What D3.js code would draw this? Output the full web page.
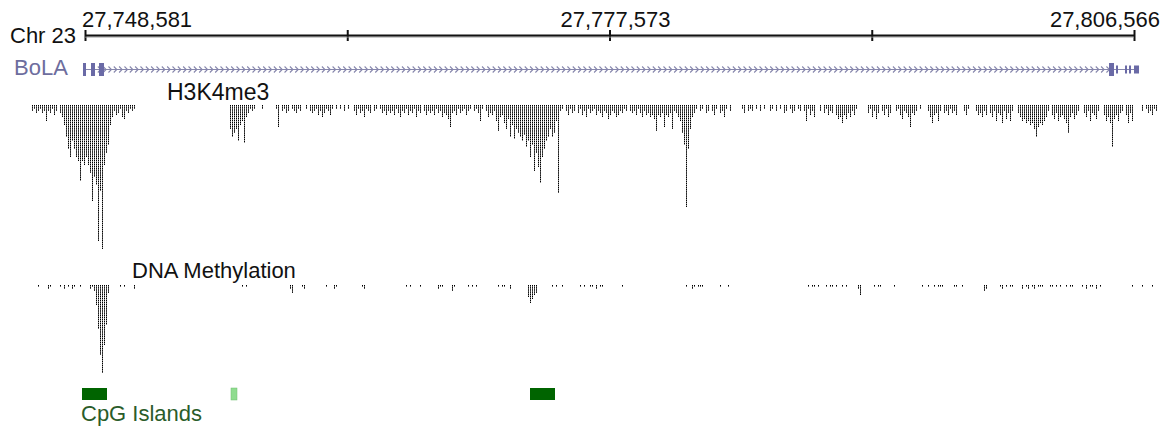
<!DOCTYPE html>
<html>
<head>
<meta charset="utf-8">
<script src="https://cdn.jsdelivr.net/npm/d3@7"></script>
<style>
  html, body { margin: 0; padding: 0; background: #fff; }
  svg { display: block; font-family: "Liberation Sans", Arial, sans-serif; }
</style>
</head>
<body>
<svg id="chart" width="1173" height="430"></svg>
<script>
// ---- region and axis ----
const chromName = "Chr 23";
const tickValues = [27748581, 27763077, 27777573, 27792070, 27806566];
const tickLabels = ["27,748,581", "", "27,777,573", "", "27,806,566"];

// ---- gene model (BoLA, plus strand) ----
const geneName = "BoLA";
const geneStart = 27748470;
const geneEnd = 27806843;
const exonStarts = [27748470, 27748913, 27749355, 27805185, 27805572, 27806069, 27806290, 27806566];
const exonEnds   = [27748636, 27749134, 27749631, 27805461, 27805682, 27806180, 27806401, 27806843];
const exonCoding = [true, true, true, true, false, false, false, false];

// ---- coverage bins (reads per bin) ----
const binStart = 27745651;
const binSize = 110.55;
const h3k4me3Depth = [
  3,2,4,3,2,4,3,8,3,4,2,5,3,0,4,6,10,16,22,26,
  18,22,26,28,38,28,30,26,30,34,48,36,40,68,43,72,30,24,20,10,
  6,3,5,4,2,6,7,3,4,2,3,2,0,0,0,0,0,0,0,0,
  0,0,0,0,0,0,0,0,0,0,0,0,0,0,0,0,0,0,0,0,
  0,0,0,0,0,0,0,0,0,0,0,0,0,0,0,0,0,0,0,12,
  16,14,12,18,10,8,19,6,4,2,3,2,0,0,0,2,0,0,0,0,
  0,0,2,11,0,3,2,4,3,0,2,3,4,2,3,0,0,2,0,3,
  4,3,2,5,3,6,4,2,3,5,2,0,2,0,2,0,3,0,2,0,
  0,3,5,2,4,3,6,2,3,4,0,3,2,0,2,4,3,5,3,4,
  3,5,2,4,6,3,4,2,5,3,4,2,6,3,4,0,3,5,3,4,
  3,5,2,4,3,6,4,5,7,11,4,3,5,2,4,3,2,5,3,2,
  0,3,2,4,8,2,0,3,6,4,5,3,8,13,6,5,9,12,7,16,
  10,17,12,14,16,18,15,21,18,26,20,33,24,31,39,26,22,18,16,12,
  16,14,8,44,3,2,0,3,5,2,4,3,0,4,2,5,3,6,2,4,
  3,2,5,3,4,6,3,4,7,5,3,4,6,5,3,4,2,3,0,3,
  4,3,5,2,4,6,3,5,4,6,5,7,13,5,6,4,11,5,6,4,
  12,3,4,6,8,14,20,51,22,12,6,4,2,0,3,2,0,4,3,0,
  3,5,2,0,4,3,6,2,0,3,0,0,0,0,0,2,4,0,3,2,
  3,0,2,0,3,0,2,0,0,3,2,0,3,0,2,0,4,3,0,2,
  4,3,0,2,3,0,3,8,2,5,3,6,0,0,3,0,4,2,5,3,
  4,0,5,7,6,9,5,7,4,6,3,5,2,0,0,0,0,0,4,2,
  6,3,7,4,0,3,5,2,6,4,0,0,3,2,5,7,3,4,6,11,
  4,5,3,0,2,0,0,0,3,6,9,5,4,8,3,0,4,3,5,2,
  4,3,5,0,0,0,3,5,2,0,0,0,3,5,4,6,3,5,0,4,
  6,3,8,4,5,9,3,7,4,8,3,0,0,4,6,8,7,9,8,10,
  9,12,16,11,9,10,8,6,3,0,5,7,4,8,6,5,7,9,14,6,
  4,7,5,3,0,0,4,6,3,8,4,5,7,3,0,0,5,8,6,9,
  21,7,5,8,4,3,0,5,9,4,8,0,0,0,0,3,0,2,4,3,
  5,2,3,0
];

// ---- methylated CpG sites (bin index, read depth) ----
const methylBins = [
  3,8,9,14,16,18,20,21,24,29,30,31,32,33,34,35,36,37,38,44,46,51,
  105,107,129,130,135,136,147,151,152,165,166,187,189,
  194,203,204,205,210,211,218,220,222,233,235,236,239,
  248,249,250,251,252,260,262,265,274,276,279,280,282,284,285,295,
  327,330,331,333,334,335,344,348,
  388,390,391,393,397,399,400,402,405,407,413,414,421,423,424,431,
  445,448,451,453,454,455,461,462,465,476,477,484,485,487,489,490,
  495,497,498,500,501,503,504,505,509,510,512,514,517,519,520,
  525,527,529,530,532,534,550,555,560
];
const methylDepth = [
  1,2,1,1,2,1,2,1,1,2,1,3,10,22,35,44,30,20,4,1,1,2,
  1,1,2,4,1,2,1,2,1,1,2,1,1,
  1,2,1,1,3,1,1,1,1,1,1,1,2,
  6,9,7,5,4,1,1,1,1,1,1,1,2,1,1,1,
  1,2,1,1,1,1,1,1,
  1,1,1,1,1,1,1,1,1,1,2,5,1,1,1,1,
  1,1,1,1,1,1,1,1,1,3,2,1,2,1,1,1,
  2,1,2,1,2,1,1,1,1,1,1,1,1,1,1,
  1,2,1,1,2,1,1,1,1
];

// ---- CpG islands ----
const cpgStarts = [27748415, 27756651, 27773179];
const cpgEnds   = [27749797, 27756983, 27774561];
const cpgStrong = [true, false, true];

const svg = d3.select("#chart");
const font = "'Liberation Sans', Arial, sans-serif";

const x = d3.scaleLinear()
  .domain([tickValues[0], tickValues[tickValues.length - 1]])
  .range([85, 1134]);

// 2 px of track height per read
const depth = d3.scaleLinear().domain([0, 1]).range([0, 2]);

const binX = i => Math.round(x(binStart + i * binSize)) + 0.5;

// ---- ruler ----
const ruler = svg.append("g").attr("transform", "translate(0,30)");
ruler.call(d3.axisBottom(x).tickValues(tickValues).tickSizeInner(11).tickSizeOuter(0).tickFormat(""))
  .call(g => g.select(".domain").remove())
  .call(g => g.selectAll(".tick line").attr("stroke", "#111").attr("stroke-width", 2));
ruler.append("line")
  .attr("x1", x.range()[0]).attr("x2", x.range()[1])
  .attr("y1", 7).attr("y2", 7)
  .attr("stroke", "#999").attr("stroke-width", 1);
ruler.append("line")
  .attr("x1", x.range()[0]).attr("x2", x.range()[1])
  .attr("y1", 5.5).attr("y2", 5.5)
  .attr("stroke", "#111").attr("stroke-width", 2);

const labelAnchor = ["start", "middle", "middle", "middle", "end"];
const labelShift = [-3, 0, 6, 0, 26];
svg.append("g").selectAll("text")
  .data(tickValues.map((v, i) => ({ v, label: tickLabels[i], i })).filter(d => d.label))
  .join("text")
  .attr("x", d => x(d.v) + labelShift[d.i])
  .attr("y", 27)
  .attr("text-anchor", d => labelAnchor[d.i])
  .attr("font-family", font).attr("font-size", 22).attr("fill", "#111")
  .text(d => d.label);

svg.append("text")
  .attr("x", 10).attr("y", 43)
  .attr("font-family", font).attr("font-size", 22).attr("fill", "#111")
  .text(chromName);

// ---- gene track ----
const geneY = 69.5;
const gene = svg.append("g");
svg.append("text")
  .attr("x", 14).attr("y", 75)
  .attr("font-family", font).attr("font-size", 22).attr("fill", "#6d6d9e")
  .text(geneName);

gene.append("line")
  .attr("x1", x(geneStart)).attr("x2", x(geneEnd))
  .attr("y1", geneY).attr("y2", geneY)
  .attr("stroke", "#8686ac").attr("stroke-width", 1.2);

gene.selectAll("path.chev")
  .data(d3.range(geneStart + 900, geneEnd - 1500, 295))
  .join("path")
  .attr("class", "chev")
  .attr("d", d => {
    const cx = x(d);
    return `M${cx - 1.5},${geneY - 3}L${cx + 1.5},${geneY}L${cx - 1.5},${geneY + 3}`;
  })
  .attr("fill", "none").attr("stroke", "#8686ac").attr("stroke-width", 1.1);

gene.selectAll("rect.exon")
  .data(exonStarts.map((s, i) => ({ s, e: exonEnds[i], cds: exonCoding[i] })))
  .join("rect")
  .attr("class", "exon")
  .attr("x", d => x(d.s))
  .attr("width", d => Math.max(1.5, x(d.e) - x(d.s)))
  .attr("y", d => geneY - (d.cds ? 6.5 : 4))
  .attr("height", d => d.cds ? 13 : 8)
  .attr("fill", "#6a6aa6");

// ---- H3K4me3 coverage ----
const h3Top = 105;
svg.append("text")
  .attr("x", 167).attr("y", 100)
  .attr("font-family", font).attr("font-size", 23).attr("fill", "#111")
  .text("H3K4me3");

svg.append("g").selectAll("line")
  .data(h3k4me3Depth.map((v, i) => ({ v, i })).filter(d => d.v > 0))
  .join("line")
  .attr("x1", d => binX(d.i)).attr("x2", d => binX(d.i))
  .attr("y1", h3Top).attr("y2", d => h3Top + depth(d.v))
  .attr("stroke", "#000").attr("stroke-width", 1)
  .attr("stroke-dasharray", "1.6 0.5");

// ---- DNA methylation ----
const meTop = 285;
svg.append("text")
  .attr("x", 132).attr("y", 278)
  .attr("font-family", font).attr("font-size", 22).attr("fill", "#111")
  .text("DNA Methylation");

svg.append("g").selectAll("line")
  .data(methylBins.map((b, i) => ({ b, v: methylDepth[i] })))
  .join("line")
  .attr("x1", d => binX(d.b)).attr("x2", d => binX(d.b))
  .attr("y1", meTop).attr("y2", d => meTop + depth(d.v))
  .attr("stroke", "#000").attr("stroke-width", 1)
  .attr("stroke-dasharray", "1.6 0.5");

// ---- CpG islands ----
svg.append("g").selectAll("rect")
  .data(cpgStarts.map((s, i) => ({ s, e: cpgEnds[i], strong: cpgStrong[i] })))
  .join("rect")
  .attr("x", d => x(d.s)).attr("width", d => x(d.e) - x(d.s))
  .attr("y", 388).attr("height", 12)
  .attr("fill", d => d.strong ? "#006400" : "#8fdc8f")
  .attr("stroke", d => d.strong ? "none" : "#6fbf6f").attr("stroke-width", 0.5);

svg.append("text")
  .attr("x", 81).attr("y", 421)
  .attr("font-family", font).attr("font-size", 22).attr("fill", "#2a5c2a")
  .text("CpG Islands");
</script>
</body>
</html>
